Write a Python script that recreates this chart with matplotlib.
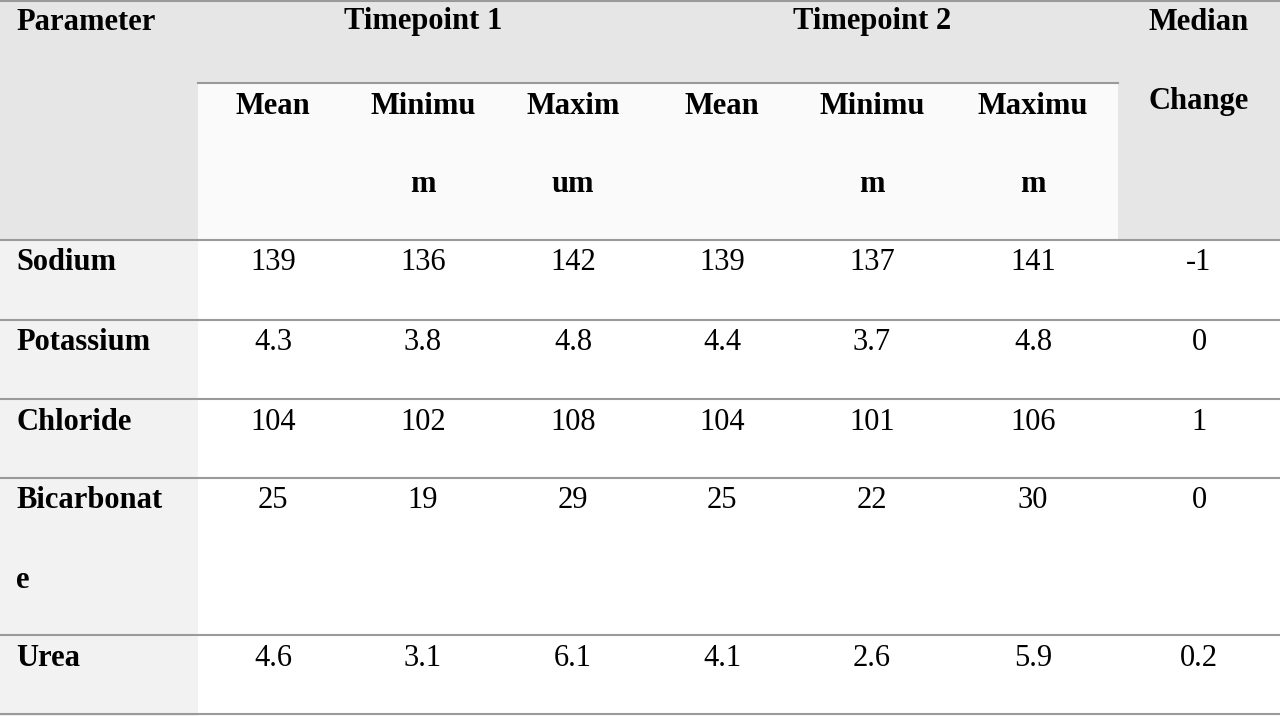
import matplotlib.pyplot as plt
from matplotlib.patches import Rectangle

PARAMS = [["Sodium"], ["Potassium"], ["Chloride"], ["Bicarbonat", "e"], ["Urea"]]
T1_MEAN = ["139", "4.3", "104", "25", "4.6"]
T1_MIN = ["136", "3.8", "102", "19", "3.1"]
T1_MAX = ["142", "4.8", "108", "29", "6.1"]
T2_MEAN = ["139", "4.4", "104", "25", "4.1"]
T2_MIN = ["137", "3.7", "101", "22", "2.6"]
T2_MAX = ["141", "4.8", "106", "30", "5.9"]
MEDIAN_CHANGE = ["-1", "0", "1", "0", "0.2"]
SUB_HEADERS = [["Mean"], ["Minimu", "m"], ["Maxim", "um"], ["Mean"], ["Minimu", "m"], ["Maximu", "m"]]

# layout in pixels
col_centers = [273, 423, 573, 722, 872, 1033, 1199]
row_edges = [240, 320, 399, 478, 635, 714]
LINE_STEP = 79

plt.rcParams["font.family"] = "serif"
plt.rcParams["font.serif"] = ["Liberation Serif", "Times New Roman", "DejaVu Serif"]
FS = 22

fig = plt.figure(figsize=(12.8, 7.16), dpi=100)
ax = fig.add_axes([0, 0, 1, 1])
ax.set_xlim(0, 1280)
ax.set_ylim(716, 0)
ax.axis("off")

# backgrounds
ax.add_patch(Rectangle((0, 0), 1280, 240, color="#e6e6e6", lw=0))
ax.add_patch(Rectangle((198, 83), 1118 - 198, 157, color="#fafafa", lw=0))
ax.add_patch(Rectangle((0, 240), 198, 476, color="#f2f2f2", lw=0))

# lines
line_kw = dict(color="#9a9a9a", lw=1.5)
ax.plot([0, 1280], [1, 1], **line_kw)
ax.plot([198, 1118], [83, 83], **line_kw)
for y in row_edges:
    ax.plot([0, 1280], [y, y], **line_kw)


def lines(x, y, parts, ha="center", bold=True):
    for k, s in enumerate(parts):
        ax.text(x, y + k * LINE_STEP, s, ha=ha, va="center", fontsize=FS,
                fontweight="bold" if bold else "normal")


lines(16, 22, ["Parameter"], ha="left")
lines(423, 22, ["Timepoint 1"])
lines(872, 22, ["Timepoint 2"])
lines(1199, 22, ["Median"])
lines(1199, 102, ["Change"])
for x, lab in zip(col_centers, SUB_HEADERS):
    lines(x, 106, lab)

cols = [T1_MEAN, T1_MIN, T1_MAX, T2_MEAN, T2_MIN, T2_MAX, MEDIAN_CHANGE]
for i, name in enumerate(PARAMS):
    y = row_edges[i] + 23
    lines(16, y, name, ha="left")
    for x, col in zip(col_centers, cols):
        lines(x, y, [col[i]], bold=False)

fig.savefig("out.png", dpi=100)
